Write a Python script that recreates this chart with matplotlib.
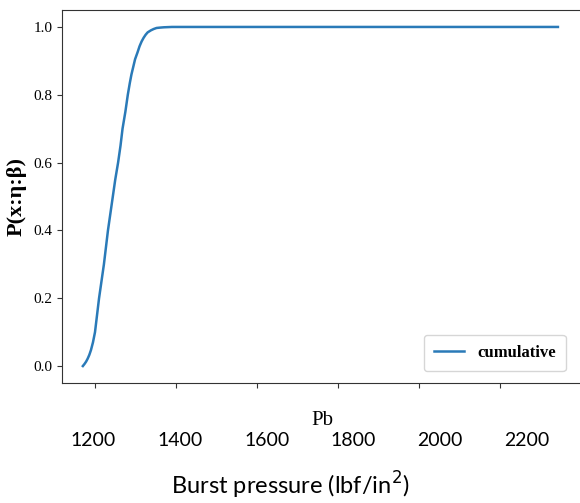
import matplotlib
matplotlib.use("Agg")
import matplotlib.pyplot as plt

# values
pb = [1170, 1174, 1178, 1182, 1186, 1190, 1195, 1200, 1205, 1210, 1216, 1222,
      1227, 1232, 1238, 1244, 1250, 1257, 1263, 1268, 1275, 1281, 1286, 1290,
      1295, 1299, 1305, 1310, 1315, 1320, 1325, 1330, 1338, 1345, 1352, 1360,
      1370, 1380, 1390, 1400, 1450, 1500, 1800, 2343]
cdf = [0.0, 0.006, 0.013, 0.022, 0.033, 0.047, 0.07, 0.1, 0.15, 0.2, 0.25, 0.3,
       0.35, 0.4, 0.45, 0.5, 0.55, 0.6, 0.65, 0.7, 0.75, 0.8, 0.835, 0.86,
       0.885, 0.905, 0.925, 0.943, 0.957, 0.968, 0.977, 0.984, 0.99, 0.994, 0.997, 0.998,
       0.999, 0.9995, 1.0, 1.0, 1.0, 1.0, 1.0, 1.0]

y_ticks = [0.0, 0.2, 0.4, 0.6, 0.8, 1.0]
x_ticks = [1200, 1400, 1600, 1800, 2000, 2200]
x_labels = ["1200", "1400", "1600", "1800", "2000", "2200"]

W, H = 580, 503
fig = plt.figure(figsize=(W / 100, H / 100), dpi=100)

# main axes (runs past the right edge, like the cropped original)
ax = fig.add_axes([62 / W, (H - 383) / H, (590 - 62) / W, (383 - 10) / H])
ax.plot(pb, cdf, color="#2a7ab8", lw=1.8, label="cumulative")
ax.set_xlim(1200 - 33 * 200 / 81, 1200 + (590 - 95) * 200 / 81)
ax.set_ylim(-0.05, 1.05)
ax.set_yticks(y_ticks)
ax.set_yticklabels([f"{v:.1f}" for v in y_ticks], family="Liberation Serif", fontsize=11)
ax.set_xticks(x_ticks)
ax.set_xticklabels([])
ax.tick_params(colors="#333333", labelcolor="black")
for s in ax.spines.values():
    s.set_color("#333333")
ax.set_ylabel("P(x:η:β)", family="Liberation Serif", fontweight="bold", fontsize=16, labelpad=5)
ax.set_xlabel("Pb", family="Liberation Serif", fontsize=15)
ax.xaxis.set_label_coords((322 - 62) / (590 - 62), -0.075)
leg = ax.legend(loc="lower right", bbox_to_anchor=((574 - 62) / (590 - 62), 0.01),
                prop={"family": "Liberation Serif", "size": 12, "weight": "bold"},
                handlelength=1.8, borderpad=0.6)

# pasted-in tick labels and axis title underneath
ax2 = fig.add_axes([93 / W, (H - 432) / H, (527 - 93) / W, 0.001])
ax2.set_xlim(1200, 2200)
ax2.set_xticks(x_ticks)
ax2.set_xticklabels(x_labels, family="Lato", fontsize=14)
ax2.tick_params(length=0, pad=0)
ax2.set_yticks([])
for s in ax2.spines.values():
    s.set_visible(False)
ax2.patch.set_alpha(0)

fig.text(290 / W, 1 - 485 / H, "Burst pressure (lbf/in$^{2}$)", family="Lato", fontsize=17,
         ha="center", va="center")

fig.savefig("out.png", dpi=100)
